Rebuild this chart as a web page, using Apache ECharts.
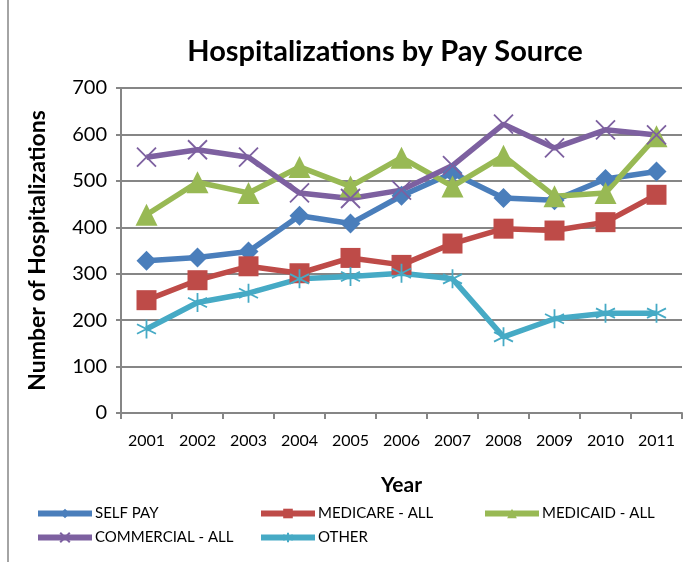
<!DOCTYPE html>
<html>
<head>
<meta charset="utf-8">
<script src="https://cdn.jsdelivr.net/npm/echarts@6/dist/echarts.min.js"></script>
<style>
  html, body { margin: 0; padding: 0; background: #fff; }
  #chart { width: 690px; height: 562px; }
</style>
</head>
<body>
<div id="chart"></div>
<script>
// data
const years = ['2001', '2002', '2003', '2004', '2005', '2006', '2007', '2008', '2009', '2010', '2011'];
const selfPay = [328, 335, 348, 425, 408, 468, 517, 463, 458, 504, 520];
const medicare = [243, 286, 316, 301, 334, 319, 365, 397, 393, 411, 470];
const medicaid = [427, 497, 474, 530, 488, 550, 488, 554, 467, 474, 596];
const commercial = [551, 567, 551, 474, 462, 480, 533, 622, 571, 610, 599];
const other = [181, 238, 258, 289, 294, 301, 289, 164, 203, 215, 215];
const yTicks = [0, 100, 200, 300, 400, 500, 600, 700];

const font = 'Lato, "Open Sans", sans-serif';
const X_PATH = 'path://M0,0 L10,10 M10,0 L0,10';
const STAR_PATH = 'path://M5,0 L5,10 M0.7,2.5 L9.3,7.5 M0.7,7.5 L9.3,2.5';

function lineSeries(name, data, color, symbol, size, stroked) {
  return {
    name: name,
    type: 'line',
    data: data,
    symbol: symbol,
    symbolSize: size,
    lineStyle: { color: color, width: 5.5 },
    itemStyle: stroked
      ? { color: 'rgba(0,0,0,0)', borderColor: color, borderWidth: 1.8 }
      : { color: color, borderWidth: 0 },
    emphasis: { disabled: true },
    z: 2
  };
}

const chart = echarts.init(document.getElementById('chart'));

function legendAt(name, left, top) {
  return {
    data: [name],
    left: left,
    top: top,
    itemWidth: 54,
    itemHeight: 12,
    padding: 0,
    lineStyle: { width: 6 },
    textStyle: { fontFamily: font, fontSize: 15, color: '#000', padding: [0, 0, 0, -2] }
  };
}

chart.setOption({
  animation: false,
  title: {
    text: 'Hospitalizations by Pay Source',
    left: 380,
    textAlign: 'center',
    top: 32,
    textStyle: { fontFamily: font, fontSize: 29, fontWeight: 'bold', color: '#000' }
  },
  legend: [
    legendAt('SELF PAY', 35, 506),
    legendAt('MEDICARE - ALL', 258, 506),
    legendAt('MEDICAID - ALL', 482, 506),
    legendAt('COMMERCIAL - ALL', 35, 530),
    legendAt('OTHER', 258, 530)
  ],
  grid: { left: 121, right: 8, top: 88, bottom: 149 },
  xAxis: {
    type: 'category',
    data: years,
    boundaryGap: true,
    name: 'Year',
    nameLocation: 'middle',
    nameGap: 62,
    nameTextStyle: { fontFamily: font, fontSize: 21, fontWeight: 'bold', color: '#000' },
    axisLine: { lineStyle: { color: '#868686', width: 2 } },
    axisTick: { show: true, length: 6, interval: 0, alignWithLabel: false, lineStyle: { color: '#868686', width: 2 } },
    axisLabel: { fontFamily: font, fontSize: 16, color: '#000', margin: 20, interval: 0 }
  },
  yAxis: {
    type: 'value',
    min: yTicks[0],
    max: yTicks[yTicks.length - 1],
    interval: 100,
    name: 'Number of Hospitalizations',
    nameLocation: 'middle',
    nameGap: 72,
    nameTextStyle: { fontFamily: font, fontSize: 23, fontWeight: 'bold', color: '#000' },
    axisLine: { show: true, lineStyle: { color: '#868686', width: 2 } },
    axisTick: { show: true, length: 5, lineStyle: { color: '#868686', width: 2 } },
    axisLabel: { fontFamily: font, fontSize: 20, color: '#000', margin: 14 },
    splitLine: { lineStyle: { color: '#868686', width: 2 } }
  },
  graphic: [{
    type: 'line',
    shape: { x1: 8, y1: 0, x2: 8, y2: 562 },
    style: { stroke: '#868686', lineWidth: 1.5 }
  }],
  series: [
    lineSeries('SELF PAY', selfPay, '#4A7EBB', 'diamond', 20, false),
    lineSeries('MEDICARE - ALL', medicare, '#BE4B48', 'rect', 20, false),
    lineSeries('MEDICAID - ALL', medicaid, '#98B954', 'triangle', 22, false),
    lineSeries('COMMERCIAL - ALL', commercial, '#7D60A0', X_PATH, 19, true),
    lineSeries('OTHER', other, '#46AAC5', STAR_PATH, 19, true)
  ]
});
</script>
</body>
</html>
